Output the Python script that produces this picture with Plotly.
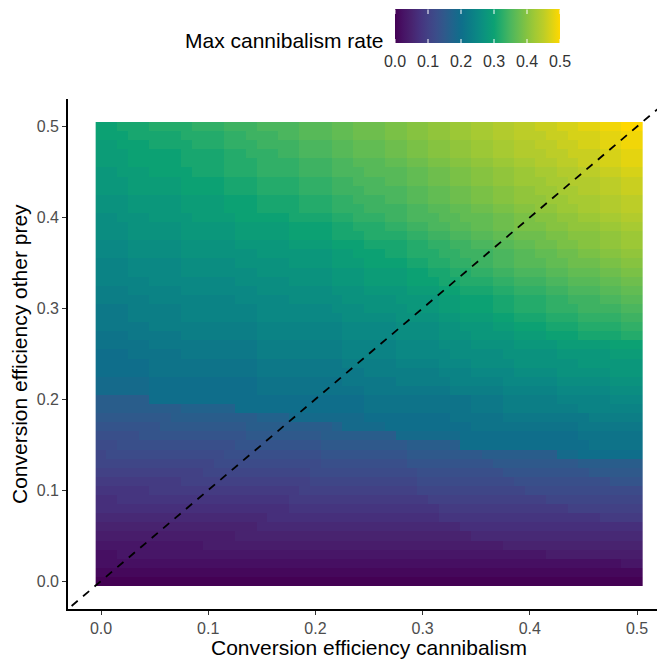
import plotly.graph_objects as go

FONT = "Liberation Sans, Arial, sans-serif"

# Grid of parameter values (cell centres)
x_vals = [0.00, 0.01, 0.02, 0.03, 0.04, 0.05, 0.06, 0.07, 0.08, 0.09,
          0.10, 0.11, 0.12, 0.13, 0.14, 0.15, 0.16, 0.17, 0.18, 0.19,
          0.20, 0.21, 0.22, 0.23, 0.24, 0.25, 0.26, 0.27, 0.28, 0.29,
          0.30, 0.31, 0.32, 0.33, 0.34, 0.35, 0.36, 0.37, 0.38, 0.39,
          0.40, 0.41, 0.42, 0.43, 0.44, 0.45, 0.46, 0.47, 0.48, 0.49, 0.50]
y_vals = [0.00, 0.01, 0.02, 0.03, 0.04, 0.05, 0.06, 0.07, 0.08, 0.09,
          0.10, 0.11, 0.12, 0.13, 0.14, 0.15, 0.16, 0.17, 0.18, 0.19,
          0.20, 0.21, 0.22, 0.23, 0.24, 0.25, 0.26, 0.27, 0.28, 0.29,
          0.30, 0.31, 0.32, 0.33, 0.34, 0.35, 0.36, 0.37, 0.38, 0.39,
          0.40, 0.41, 0.42, 0.43, 0.44, 0.45, 0.46, 0.47, 0.48, 0.49, 0.50]

# Max cannibalism rate (x100), one row per y value from 0.00 (bottom) to 0.50 (top)
z_pct = [
 [0,0,0,0,0,0,0,0,0,0, 0,0,0,0,0,0,0,0,0,0, 0,0,0,0,0,0,0,0,0,0, 0,0,0,0,0,0,0,0,0,0, 0,0,0,0,0,0,0,0,0,0, 0],
 [1,1,1,1,1,1,1,1,1,1, 1,1,1,1,1,1,1,1,1,1, 1,1,1,1,1,1,1,1,1,1, 1,1,1,1,1,1,1,1,1,1, 1,1,1,1,1,1,1,1,1,1, 1],
 [2,2,2,2,2,2,2,2,2,2, 2,2,2,2,2,2,2,2,2,2, 2,2,2,2,2,2,2,2,2,2, 2,2,2,2,2,2,2,2,2,2, 2,2,2,2,2,2,2,2,2,3, 3],
 [2,2,3,3,3,3,3,3,3,3, 3,3,3,3,3,3,3,3,3,3, 3,3,3,3,3,3,3,3,3,3, 3,3,3,3,3,3,3,3,3,3, 3,3,4,4,4,4,4,4,4,4, 4],
 [3,3,3,3,3,3,3,3,3,3, 4,4,4,4,4,4,4,4,4,4, 4,4,4,4,4,4,4,4,4,4, 4,4,4,4,4,4,4,4,5,5, 5,5,5,5,5,5,5,5,5,5, 5],
 [4,4,4,4,4,4,4,4,4,4, 4,4,4,5,5,5,5,5,5,5, 5,5,5,5,5,5,5,5,5,5, 5,5,5,5,5,6,6,6,6,6, 6,6,6,6,6,6,6,6,6,6, 6],
 [5,5,5,5,5,5,5,5,5,5, 5,5,5,5,5,6,6,6,6,6, 6,6,6,6,6,6,6,6,6,6, 6,6,6,6,7,7,7,7,7,7, 7,7,7,7,7,7,7,7,7,7, 7],
 [6,6,6,6,6,6,6,6,6,6, 6,6,6,6,6,6,7,7,7,7, 7,7,7,7,7,7,7,7,7,7, 7,7,8,8,8,8,8,8,8,8, 8,8,8,8,8,8,8,9,9,9, 9],
 [7,7,7,7,7,7,7,7,7,7, 7,7,7,7,7,7,7,7,8,8, 8,8,8,8,8,8,8,8,8,8, 8,8,9,9,9,9,9,9,9,9, 9,9,9,9,10,10,10,10,10,10, 10],
 [7,7,8,8,8,8,8,8,8,8, 8,8,8,8,8,8,8,8,9,9, 9,9,9,9,9,9,9,9,9,9, 9,10,10,10,10,10,10,10,10,10, 10,10,11,11,11,11,11,11,11,11, 11],
 [8,8,8,8,8,9,9,9,9,9, 9,9,9,9,9,9,9,9,9,10, 10,10,10,10,10,10,10,10,10,10, 11,11,11,11,11,11,11,11,11,11, 12,12,12,12,12,12,12,12,12,12, 12],
 [9,9,9,9,9,9,9,9,10,10, 10,10,10,10,10,10,10,10,10,10, 11,11,11,11,11,11,11,11,11,11, 12,12,12,12,12,12,12,12,12,13, 13,13,13,13,13,13,13,13,14,14, 14],
 [10,10,10,10,10,10,10,10,10,10, 11,11,11,11,11,11,11,11,11,11, 12,12,12,12,12,12,12,12,12,12, 13,13,13,13,13,13,13,13,14,14, 14,14,14,14,14,14,15,15,15,15, 15],
 [11,11,11,11,11,11,11,11,11,11, 11,12,12,12,12,12,12,12,12,12, 12,13,13,13,13,13,13,13,13,14, 14,14,14,14,14,14,14,15,15,15, 15,15,15,15,15,16,16,16,16,16, 16],
 [11,12,12,12,12,12,12,12,12,12, 12,12,13,13,13,13,13,13,13,13, 13,14,14,14,14,14,14,14,14,15, 15,15,15,15,15,15,16,16,16,16, 16,16,16,19,19,20,20,20,20,20, 20],
 [12,12,13,13,13,13,13,13,13,13, 13,13,13,14,14,14,14,14,14,14, 14,15,15,15,15,15,15,15,15,16, 16,16,16,16,20,20,20,20,20,20, 20,20,20,20,20,20,21,21,21,21, 21],
 [13,13,13,13,14,14,14,14,14,14, 14,14,14,14,15,15,15,15,15,15, 15,16,16,16,16,16,16,16,19,19, 19,19,19,19,20,20,20,20,20,20, 20,20,20,20,20,21,21,21,21,21, 21],
 [14,14,14,14,14,14,15,15,15,15, 15,15,15,15,16,16,16,16,16,16, 16,16,17,19,19,19,19,20,20,20, 20,20,20,20,20,21,21,21,21,21, 21,21,21,21,21,22,22,22,22,22, 22],
 [15,15,15,15,15,15,15,16,16,16, 16,16,16,16,16,17,17,17,19,19, 19,19,19,19,19,20,20,20,20,20, 20,20,20,21,21,21,21,21,22,22, 22,22,22,22,22,22,23,23,23,23, 23],
 [16,16,16,16,16,16,16,16,17,17, 17,17,17,20,20,20,20,20,20,20, 20,20,20,20,20,21,21,21,21,21, 21,21,21,21,21,22,22,22,23,23, 23,23,23,23,23,24,24,24,24,24, 24],
 [16,16,16,16,16,20,20,20,20,20, 20,20,20,20,20,20,20,20,20,20, 20,20,20,20,20,21,21,21,21,21, 21,21,21,21,21,22,22,22,23,23, 23,23,23,24,24,24,24,24,25,25, 25],
 [19,19,19,19,19,20,20,20,20,20, 20,20,20,20,20,21,21,21,21,21, 21,21,21,21,21,22,22,22,22,22, 22,22,22,23,23,23,23,23,24,24, 24,24,24,25,25,25,25,25,26,26, 26],
 [19,19,19,19,19,20,20,20,20,20, 20,20,20,20,20,21,21,21,21,21, 21,21,21,22,22,22,22,22,23,23, 23,23,23,24,24,24,24,24,25,25, 25,25,25,26,26,26,26,26,27,27, 27],
 [20,20,20,20,20,21,21,21,21,21, 21,21,21,21,21,22,22,22,22,22, 22,22,22,22,22,23,23,23,23,23, 23,23,24,24,24,25,25,25,25,26, 26,26,26,27,27,27,27,27,28,28, 28],
 [20,20,20,20,20,21,21,21,21,21, 21,21,21,21,21,22,22,22,22,22, 22,22,22,23,23,23,23,23,24,24, 24,24,25,25,25,26,26,26,26,27, 27,27,27,27,27,28,28,28,28,28, 28],
 [20,20,20,21,21,21,21,21,22,22, 22,22,22,22,22,23,23,23,23,23, 23,23,23,24,24,24,24,24,25,25, 25,25,25,26,26,26,26,26,27,27, 27,27,27,28,28,28,28,28,29,29, 29],
 [21,21,21,21,21,22,22,22,22,22, 22,22,22,22,22,23,23,23,23,23, 23,23,23,24,24,24,24,24,25,25, 25,25,26,26,26,27,27,27,27,28, 28,28,28,29,29,29,29,29,30,30, 30],
 [21,21,21,22,22,22,22,22,23,23, 23,23,23,23,23,24,24,24,24,24, 24,24,24,25,25,25,25,25,26,26, 26,26,27,27,27,28,28,28,28,29, 29,29,30,30,30,31,31,31,31,32, 32],
 [22,22,22,22,22,23,23,23,23,23, 23,23,23,23,23,24,24,24,24,24, 24,24,24,25,25,25,25,25,26,26, 26,26,27,27,28,28,28,29,29,30, 30,30,31,31,31,32,32,32,32,33, 33],
 [22,22,22,23,23,23,23,23,24,24, 24,24,24,24,24,25,25,25,25,25, 25,25,25,26,26,26,26,26,27,27, 27,27,28,28,29,29,29,30,30,31, 31,31,32,32,32,33,33,33,33,34, 34],
 [22,22,22,23,23,23,23,23,24,24, 24,24,24,24,24,25,25,25,25,25, 25,25,26,26,26,27,27,27,27,28, 28,28,29,29,30,30,30,31,31,32, 32,32,33,33,33,34,34,34,34,35, 35],
 [23,23,23,23,23,24,24,24,24,24, 24,24,24,25,25,25,25,25,26,26, 26,26,26,27,27,27,27,27,28,28, 28,28,29,29,30,30,30,31,31,32, 32,32,33,33,34,34,34,35,35,36, 36],
 [23,23,23,24,24,24,24,24,25,25, 25,25,25,25,25,26,26,26,26,26, 26,26,27,27,27,28,28,28,28,29, 29,29,30,30,31,31,31,32,32,33, 33,33,34,34,35,35,35,36,36,37, 37],
 [24,24,24,24,24,25,25,25,25,25, 25,25,25,26,26,26,26,26,27,27, 27,27,28,28,28,29,29,29,29,30, 30,30,31,31,32,32,32,33,33,34, 34,34,35,35,36,36,36,37,37,38, 38],
 [24,24,24,25,25,25,25,25,26,26, 26,26,26,26,26,27,27,27,27,27, 27,27,28,28,28,29,29,29,29,30, 30,31,31,32,32,33,33,34,34,35, 35,35,36,36,37,37,37,38,38,39, 39],
 [24,24,24,25,25,25,25,25,26,26, 26,26,26,27,27,27,27,27,28,28, 28,28,29,29,29,30,30,30,30,31, 31,32,32,33,33,34,34,35,35,36, 36,36,37,37,38,38,38,39,39,40, 40],
 [25,25,25,26,26,26,26,26,27,27, 27,27,27,27,27,28,28,28,28,28, 28,28,29,29,30,30,30,31,31,32, 32,32,33,33,34,34,34,35,35,36, 36,37,37,38,38,39,39,40,40,41, 41],
 [25,25,25,26,26,26,26,26,27,27, 27,27,27,28,28,28,28,28,29,29, 29,29,30,30,30,31,31,31,31,32, 32,33,33,34,34,35,35,36,36,37, 37,38,38,39,39,40,40,41,41,42, 42],
 [26,26,26,27,27,27,27,27,28,28, 28,28,28,29,29,29,29,29,30,30, 30,30,31,31,31,32,32,32,32,33, 33,34,34,35,35,36,36,37,37,38, 38,38,39,39,40,40,40,41,41,42, 42],
 [26,26,26,27,27,27,27,27,28,28, 28,28,28,29,29,29,29,29,30,30, 30,30,31,31,32,32,32,33,33,34, 34,35,35,36,36,37,37,38,38,39, 39,39,40,40,41,41,41,42,42,43, 43],
 [26,26,27,27,27,28,28,28,28,29, 29,29,29,30,30,30,30,30,31,31, 31,31,32,32,33,33,33,34,34,35, 35,35,36,36,37,37,37,38,38,39, 39,40,40,41,41,42,42,43,43,44, 44],
 [27,27,27,28,28,28,28,28,29,29, 29,29,30,30,30,31,31,31,31,32, 32,32,33,33,33,34,34,34,34,35, 35,36,36,37,37,38,38,39,39,40, 40,41,41,42,42,43,43,44,44,45, 45],
 [27,27,27,28,28,28,28,28,29,29, 29,29,30,30,30,31,31,31,31,32, 32,32,33,33,34,34,34,35,35,36, 36,37,37,38,38,39,39,40,40,41, 41,41,42,42,43,43,43,44,44,45, 45],
 [28,28,28,29,29,29,29,29,30,30, 30,30,31,31,31,32,32,32,32,33, 33,33,34,34,34,35,35,35,35,36, 36,37,37,38,38,39,39,40,40,41, 41,42,42,43,43,44,44,45,45,46, 46],
 [28,28,28,29,29,29,29,29,30,30, 30,30,31,31,31,32,32,32,32,33, 33,33,34,34,35,35,35,36,36,37, 37,38,38,39,39,40,40,41,41,42, 42,42,43,43,44,44,44,45,45,46, 46],
 [28,28,29,29,29,30,30,30,30,31, 31,31,32,32,32,33,33,33,33,34, 34,34,35,35,35,36,36,36,36,37, 37,38,38,39,39,40,40,41,41,42, 42,43,43,44,44,45,45,46,46,47, 47],
 [29,29,29,30,30,30,30,30,31,31, 31,31,32,32,32,33,33,33,33,34, 34,34,35,35,36,36,36,37,37,38, 38,39,39,40,40,41,41,42,42,43, 43,44,44,45,45,46,46,47,47,48, 48],
 [29,29,29,30,30,30,30,30,31,31, 31,31,32,32,33,33,33,34,34,35, 35,35,36,36,37,37,37,38,38,39, 39,40,40,41,41,42,42,43,43,44, 44,44,45,45,46,46,46,47,47,48, 48],
 [29,29,30,30,30,31,31,31,31,32, 32,32,33,33,33,34,34,34,34,35, 35,35,36,36,37,37,37,38,38,39, 39,40,40,41,41,42,42,43,43,44, 44,45,45,46,46,47,47,48,48,49, 49],
 [30,30,30,31,31,31,31,31,32,32, 32,32,33,33,34,34,34,35,35,36, 36,36,37,37,38,38,38,39,39,40, 40,41,41,42,42,43,43,44,44,45, 45,45,46,46,47,47,47,48,48,49, 49],
 [30,30,31,31,31,32,32,32,32,33, 33,33,34,34,34,35,35,35,35,36, 36,36,37,37,38,38,38,39,39,40, 40,41,41,42,42,43,43,44,44,45, 45,46,46,47,47,48,48,49,49,50, 50],
]

for i, row in enumerate(z_pct):
    if len(row) != 51:
        raise ValueError(f"row {i} has {len(row)} values")

z_vals = [[v / 100 for v in row] for row in z_pct]

tick_vals = [0.0, 0.1, 0.2, 0.3, 0.4, 0.5]
tick_text = ["0.0", "0.1", "0.2", "0.3", "0.4", "0.5"]

# viridis-like palette as it appears in the figure
colorscale = [
    [0.00, "#440154"], [0.05, "#471365"], [0.10, "#48236f"], [0.15, "#46327e"],
    [0.20, "#424185"], [0.25, "#3b4d8a"], [0.30, "#2f598b"], [0.35, "#1f648c"],
    [0.40, "#0f6e8b"], [0.45, "#0c7b87"], [0.50, "#0b8884"], [0.55, "#0b957d"],
    [0.60, "#0ca173"], [0.65, "#2aad69"], [0.70, "#4bb65e"], [0.75, "#68bd50"],
    [0.80, "#86c340"], [0.85, "#a2c934"], [0.90, "#bccd28"], [0.95, "#ddd314"],
    [1.00, "#ffd800"],
]

# y = x reference line
abline_slope = 1.0
abline_intercept = 0.0

x_range = [-0.0308, 0.5261]
y_range = [-0.0308, 0.5303]

# page has an 8px body margin; figure sized so the window shows the same frame
W, H = 657, 651
ML, MT, MB = 60, 91, 50
PW, PH = W - ML, H - MT - MB   # plot area in pixels


def px_x(p):
    """figure pixel -> paper x"""
    return (p - ML) / PW


def px_y(p):
    """figure pixel (from top) -> paper y"""
    return (MT + PH - p) / PH


# colour bar geometry (figure pixels)
CB_LEFT, CB_LEN, CB_TOP, CB_THICK = 387, 165, 1.5, 34
cb_zmax = 0.5

fig = go.Figure()
fig.add_trace(go.Heatmap(
    x=x_vals, y=y_vals, z=z_vals, zmin=0, zmax=cb_zmax,
    colorscale=colorscale,
    colorbar=dict(
        orientation="h", x=px_x(CB_LEFT), xanchor="left",
        y=px_y(CB_TOP), yanchor="top",
        len=CB_LEN, lenmode="pixels", thickness=CB_THICK,
        xpad=0, ypad=0, outlinewidth=0,
        tickvals=tick_vals, ticktext=tick_text,
        ticks="outside", tickcolor="rgba(0,0,0,0)", ticklen=5, tickwidth=1,
        tickfont=dict(family=FONT, size=16, color="#333333"),
    ),
))

line_x = [x_range[0] - 0.05, x_range[1] + 0.05]
fig.add_trace(go.Scatter(
    x=line_x, y=[abline_intercept + abline_slope * v for v in line_x],
    mode="lines", line=dict(color="black", dash="8px,7px", width=1.8),
    hoverinfo="skip", showlegend=False,
))

axis_common = dict(
    tickvals=tick_vals, ticktext=tick_text, ticks="outside", ticklen=4,
    tickwidth=1.2, tickcolor="#333333", showline=True, linecolor="black",
    linewidth=1.6, showgrid=False, zeroline=False,
    tickfont=dict(family=FONT, size=16, color="#4d4d4d"),
)
fig.update_xaxes(range=x_range, **axis_common)
fig.update_yaxes(range=y_range, **axis_common)

annotations = [
    dict(text="Conversion efficiency cannibalism", x=px_x(361), y=px_y(639),
         xref="paper", yref="paper", xanchor="center", yanchor="middle",
         showarrow=False, font=dict(family=FONT, size=21, color="black")),
    dict(text="Conversion efficiency other prey", x=px_x(11), y=0.5,
         xref="paper", yref="paper", xanchor="center", yanchor="middle", textangle=-90,
         showarrow=False, font=dict(family=FONT, size=21, color="black")),
    dict(text="Max cannibalism rate", x=px_x(377), y=px_y(33),
         xref="paper", yref="paper", xanchor="right", yanchor="middle",
         showarrow=False, font=dict(family=FONT, size=21, color="black")),
]
# small white tick marks inside the colour bar (top and bottom edges)
for v in tick_vals:
    cx = px_x(CB_LEFT + v / cb_zmax * CB_LEN)
    for edge, dy in ((CB_TOP, 6), (CB_TOP + CB_THICK, -6)):
        annotations.append(dict(
            x=cx, y=px_y(edge), xref="paper", yref="paper", text="",
            showarrow=True, arrowhead=0, arrowwidth=1, arrowcolor="white",
            ax=0, ay=dy, standoff=0, startstandoff=0,
        ))

fig.update_layout(
    width=W, height=H,
    margin=dict(l=ML, r=0, t=MT, b=MB),
    plot_bgcolor="white", paper_bgcolor="white",
    showlegend=False,
    font=dict(family=FONT),
    annotations=annotations,
)

fig.write_html("out.html")
